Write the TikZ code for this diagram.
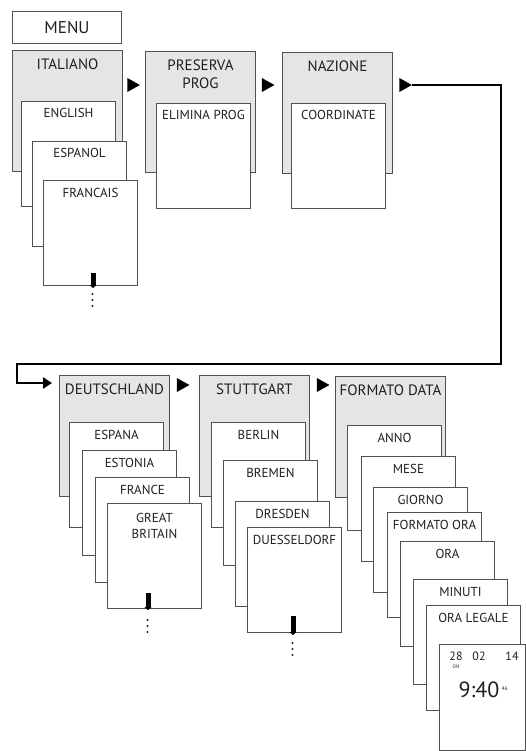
\documentclass[tikz,border=0pt]{standalone}
\usepackage{fontspec}
\setmainfont{PT Sans}
\usetikzlibrary{calc,arrows.meta,shapes.geometric}
\definecolor{panel}{HTML}{E5E5E5}
\definecolor{edge}{HTML}{505050}
\definecolor{ink}{HTML}{1E1E28}
\newcommand{\fs}[1]{\fontsize{#1}{#1}\selectfont}

\begin{document}
\begin{tikzpicture}[x=1pt,y=-1pt]
\path[use as bounding box] (0,0) rectangle (526,751);

\tikzstyle{every node}+=[inner sep=0pt,text=ink]
\tikzstyle{head}=[draw=edge,fill=panel,line width=1pt,anchor=north west,
  minimum width=110pt,minimum height=121pt]
\tikzstyle{item}=[draw=edge,fill=white,line width=1pt,anchor=north west,
  minimum width=94pt,minimum height=105pt]
\tikzstyle{htext}=[font=\fs{15},anchor=base,yshift=-19.5pt]
\tikzstyle{itext}=[font=\fs{13},anchor=base,yshift=-17pt]
\tikzstyle{pointer}=[fill=black,isosceles triangle,isosceles triangle stretches,
  minimum width=14pt,minimum height=12.5pt]
\tikzstyle{scroll}=[line width=5pt,-{Triangle[length=3pt,width=7pt]}]
\tikzstyle{link}=[line width=2.6pt,-{Triangle[length=9pt,width=11pt]}]

\node[draw=edge,line width=1pt,anchor=north west,minimum width=109pt,
  minimum height=32pt,font=\fs{17}] (menu) at (12,11) {MENU};

% language
\node[head,label={[htext]north:ITALIANO}] (italiano) at (12,50) {};
\node[item,label={[itext]north:ENGLISH}] (english) at (21,101) {};
\node[item,label={[itext]north:ESPANOL}] (espanol) at (32,141) {};
\node[item,label={[itext]north:FRANCAIS}] (francais) at (43,180) {};
\draw[scroll] ($(francais.south)+(2.5,-13)$) -- ($(francais.south)+(2.5,2)$);
\foreach \d in {0,6,12} \fill[ink] (92.5,294+\d) circle (1.1pt);

\node[pointer] (p1) at (131.5,85) {};

% programs
\node[head,label={[htext]north:PRESERVA},
  label={[htext,yshift=-18.5pt]north:PROG}] (preserva) at (145,51) {};
\node[item,label={[itext]north:ELIMINA PROG}] (elimina) at (156,103) {};

\node[pointer] (p2) at (266,85) {};

% country
\node[head,label={[htext]north:NAZIONE}] (nazione) at (282,52) {};
\node[item,label={[itext]north:COORDINATE}] (coordinate) at (291,103) {};

\node[pointer] (p3) at (403.5,85) {};
\coordinate (entry) at (52,383);
\draw[link] (p3.east) -- (501,85) |- (17,364) |- (entry);

% coordinates
\node[head,label={[htext]north:DEUTSCHLAND}] (deutschland) at (59,375) {};
\node[item,label={[itext]north:ESPANA}] (espana) at (69,422) {};
\node[item,label={[itext]north:ESTONIA}] (estonia) at (82,450) {};
\node[item,label={[itext]north:FRANCE}] (france) at (95,477) {};
\node[item,label={[itext,yshift=-2pt]north:GREAT},
  label={[itext,yshift=-18pt]north:BRITAIN}] (britain) at (107,503) {};
\draw[scroll] ($(britain.south)+(-6.5,-16)$) -- ($(britain.south)+(-6.5,1)$);
\foreach \d in {0,6,12} \fill[ink] (147.5,620+\d) circle (1.1pt);

\node[pointer] (p4) at (181,385) {};

\node[head,label={[htext]north:STUTTGART}] (stuttgart) at (199,375) {};
\node[item,label={[itext]north:BERLIN}] (berlin) at (211,422) {};
\node[item,label={[itext]north:BREMEN}] (bremen) at (223,460) {};
\node[item,label={[itext]north:DRESDEN}] (dresden) at (235,501) {};
\node[item,label={[itext]north:DUESSELDORF}] (duesseldorf) at (247,527) {};
\draw[scroll] ($(duesseldorf.south)+(-1.5,-17)$) -- ($(duesseldorf.south)+(-1.5,2)$);
\foreach \d in {0,6,12} \fill[ink] (292.5,643+\d) circle (1.1pt);

\node[pointer] (p5) at (321,385) {};

% date and time
\node[head,label={[htext]north:FORMATO DATA}] (formato) at (335,376) {};
\node[item,label={[itext]north:ANNO}] (anno) at (347,425) {};
\node[item,label={[itext]north:MESE}] (mese) at (361,456) {};
\node[item,label={[itext]north:GIORNO}] (giorno) at (373,487) {};
\node[item,label={[itext]north:FORMATO ORA}] (formatoora) at (387,512) {};
\node[item,label={[itext]north:ORA}] (ora) at (400,541) {};
\node[item,label={[itext]north:MINUTI}] (minuti) at (413,579) {};
\node[item,label={[itext]north:ORA LEGALE}] (legale) at (426,605) {};
\node[item,minimum width=86pt,minimum height=106pt] (clock) at (439,644) {};

\node[font=\fs{12},anchor=base] (day) at (456,660) {28};
\node[font=\fs{5},anchor=base] (on) at (456,668.5) {ON};
\node[font=\fs{12},anchor=base] (month) at (479,660) {02};
\node[font=\fs{12},anchor=base] (year) at (512,660) {14};
\node[font=\fs{22},anchor=base] (time) at (479,697) {9:40};
\node[font=\fs{5.5},anchor=base west] (sec) at (501.5,690) {46};
\end{tikzpicture}
\end{document}
